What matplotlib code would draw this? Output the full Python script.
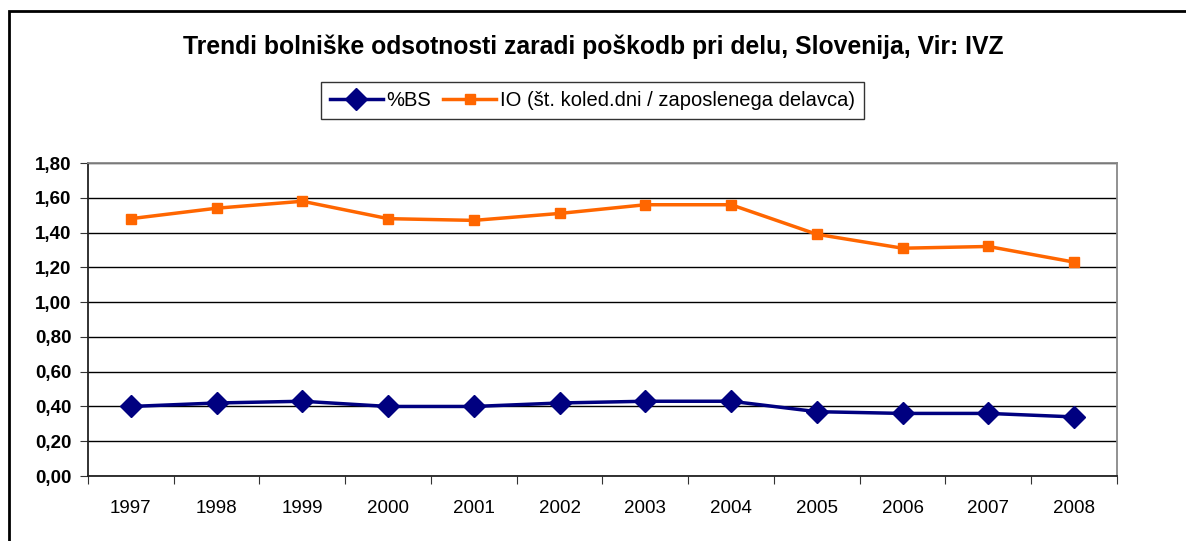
import matplotlib.pyplot as plt
from matplotlib.patches import Rectangle
from matplotlib.ticker import FuncFormatter, MultipleLocator

plt.rcParams['font.family'] = ['Liberation Sans', 'DejaVu Sans']

years = ['1997', '1998', '1999', '2000', '2001', '2002',
         '2003', '2004', '2005', '2006', '2007', '2008']
bs = [0.40, 0.42, 0.43, 0.40, 0.40, 0.42, 0.43, 0.43, 0.37, 0.36, 0.36, 0.34]
io = [1.48, 1.54, 1.58, 1.48, 1.47, 1.51, 1.56, 1.56, 1.39, 1.31, 1.32, 1.23]

fig = plt.figure(figsize=(11.86, 5.41), dpi=100)
ax = fig.add_axes([0.0742, 0.1201, 0.8676, 0.5786])

x = list(range(len(years)))
ax.plot(x, bs, color='#000080', lw=2.5, marker='D', ms=11, label='%BS')
ax.plot(x, io, color='#FF6600', lw=2.5, marker='s', ms=7.5,
        label='IO (št. koled.dni / zaposlenega delavca)')

ax.set_ylim(0, 1.8)
ax.set_xlim(-0.5, len(years) - 0.5)
ax.yaxis.set_major_locator(MultipleLocator(0.2))
ax.yaxis.set_major_formatter(FuncFormatter(lambda v, p: f'{v:.2f}'.replace('.', ',')))
ax.grid(axis='y', color='black', lw=1)
ax.set_axisbelow(True)

# category ticks between years, labels centered
ax.set_xticks([i - 0.5 for i in range(len(years) + 1)])
ax.set_xticklabels([])
ax.set_xticks(x, minor=True)
ax.set_xticklabels(years, minor=True, fontsize=13.5)
ax.tick_params(axis='x', which='minor', length=0, pad=17)
ax.tick_params(axis='x', which='major', length=6, color='#333333')
ax.tick_params(axis='y', length=6, labelsize=13.5, color='#333333', pad=6)
for lab in ax.get_yticklabels():
    lab.set_fontweight('bold')

ax.spines['left'].set_color('#222222')
ax.spines['bottom'].set_color('#222222')
ax.spines['top'].set_color('#888888')
ax.spines['right'].set_color('#888888')
for s in ax.spines.values():
    s.set_linewidth(1.3)

fig.text(0.5, 0.914, 'Trendi bolniške odsotnosti zaradi poškodb pri delu, Slovenija, Vir: IVZ',
         ha='center', va='center', fontsize=17.8, fontweight='bold')

leg = fig.legend(loc='center', bbox_to_anchor=(0.4996, 0.814), ncol=2, fontsize=14.5,
                 frameon=True, fancybox=False, edgecolor='#333333', framealpha=1,
                 handlelength=2.6, columnspacing=0.6, handletextpad=0.2,
                 borderpad=0.45)
leg.get_frame().set_linewidth(1.0)

# outer chart frame
fig.patches.append(Rectangle((0.0075, -0.05), 1.1, 1.0297, transform=fig.transFigure,
                             fill=False, edgecolor='black', lw=2))

fig.savefig('out.png', dpi=100)
